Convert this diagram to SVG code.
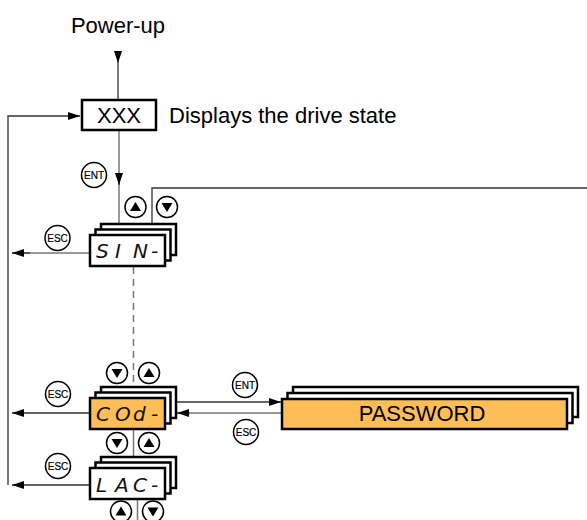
<svg xmlns="http://www.w3.org/2000/svg" width="587" height="520" viewBox="0 0 587 520">
<style>
.lbl{font-family:"Liberation Sans",Arial,sans-serif;font-size:22px;fill:#000}
.frame{fill:#fff;stroke:#000;stroke-width:2.5}
.front{stroke:#000;stroke-width:2.5}
.seg{font-family:"DejaVu Sans","Liberation Sans",sans-serif;font-weight:200;font-style:italic;font-size:20px;fill:#111}
.btn{fill:#fff;stroke:#000;stroke-width:1.5}
.key{font-family:"Liberation Sans Narrow","Liberation Sans",Arial,sans-serif;font-size:10px;fill:#000;text-anchor:middle;stroke:#000;stroke-width:0.2}
.c{fill:none;stroke:#333;stroke-width:1.3}
.g{fill:none;stroke:#777;stroke-width:1.5}
</style>
<defs>
<marker id="arr" viewBox="0 0 12 8" refX="12" refY="4" markerWidth="12" markerHeight="8" markerUnits="userSpaceOnUse" orient="auto">
<path d="M0 0L12 4L0 8z" fill="#000"/>
</marker>
<g id="up"><circle r="10.5" class="btn"/><path d="M-5.5 4L5.5 4L0 -5z" fill="#000"/></g>
<g id="down"><circle r="10.5" class="btn"/><path d="M-5.5 -4L5.5 -4L0 5z" fill="#000"/></g>
</defs>

<g id="connectors">
<path class="c" d="M118 52V63" marker-end="url(#arr)"/>
<path class="c" d="M118 63V100"/>
<path class="c" d="M8 485V116H80" marker-end="url(#arr)"/>
<path class="g" d="M119 130V185"/>
<path class="c" d="M119 174V185" marker-end="url(#arr)"/>
<path class="g" d="M119 185V224"/>
<path class="c" d="M152 224V188H587"/>
<path class="g" d="M90 253H12"/>
<path class="c" d="M30 253H12" marker-end="url(#arr)"/>
<path class="c" d="M90 413H12" marker-end="url(#arr)"/>
<path class="c" d="M90 485H12" marker-end="url(#arr)"/>
<path class="g" d="M133.5 267V387" stroke-dasharray="7 5"/>
<path class="c" d="M177 402H281" marker-end="url(#arr)"/>
<path class="g" d="M282 413H190"/>
<path class="c" d="M190 413H177" marker-end="url(#arr)"/>
<path class="g" d="M133.5 430V457"/>
<path class="g" d="M137.5 500V520"/>
</g>

<g id="powerup"><text class="lbl" x="118" y="33" text-anchor="middle">Power-up</text></g>

<g id="xxx">
<rect x="82" y="100" width="74" height="30" fill="#fff" stroke="#000" stroke-width="2.5"/>
<text class="lbl" x="119" y="123" text-anchor="middle">XXX</text>
<text class="lbl" x="169" y="123">Displays the drive state</text>
</g>

<g id="ent1"><circle cx="94" cy="175" r="12.5" class="btn"/><text class="key" x="94" y="178.5">ENT</text></g>

<g id="sin">
<rect class="frame" x="101" y="224" width="75" height="31"/>
<rect class="frame" x="95.5" y="229.5" width="75" height="31"/>
<rect class="front" x="90" y="235" width="75" height="31" fill="#fff"/>
<text class="seg" x="96 115 133 151" y="258">SIN-</text>
</g>
<use href="#up" x="135.5" y="207"/>
<use href="#down" x="167" y="207"/>
<g id="esc1"><circle cx="57.5" cy="238" r="12.5" class="btn"/><text class="key" x="57.5" y="241.5">ESC</text></g>

<g id="cod">
<rect class="frame" x="101" y="387" width="75" height="31"/>
<rect class="frame" x="95.5" y="392.5" width="75" height="31"/>
<rect class="front" x="90" y="398" width="75" height="31" fill="#FDBE57"/>
<text class="seg" x="96 115 133 151" y="421">COd-</text>
</g>
<use href="#down" x="117" y="373"/>
<use href="#up" x="149" y="373"/>
<use href="#down" x="117" y="443"/>
<use href="#up" x="149" y="443"/>
<g id="esc2"><circle cx="58" cy="394" r="12.5" class="btn"/><text class="key" x="58" y="397.5">ESC</text></g>

<g id="password">
<rect class="frame" x="293" y="387" width="285" height="30"/>
<rect class="frame" x="287.5" y="393" width="285" height="30"/>
<rect class="front" x="282" y="399" width="285" height="30" fill="#FDBE57"/>
<text class="lbl" x="422" y="421" text-anchor="middle">PASSWORD</text>
</g>
<g id="ent2"><circle cx="245" cy="385" r="12.5" class="btn"/><text class="key" x="245" y="388.5">ENT</text></g>
<g id="esc3"><circle cx="246" cy="432" r="12.5" class="btn"/><text class="key" x="246" y="435.5">ESC</text></g>

<g id="lac">
<rect class="frame" x="101" y="457" width="75" height="31"/>
<rect class="frame" x="95.5" y="462.5" width="75" height="31"/>
<rect class="front" x="90" y="468" width="75" height="31" fill="#fff"/>
<text class="seg" x="96 115 133 151" y="492">LAC-</text>
</g>
<use href="#up" x="121" y="511.5"/>
<use href="#down" x="153" y="511.5"/>
<g id="esc4"><circle cx="58" cy="466" r="12.5" class="btn"/><text class="key" x="58" y="469.5">ESC</text></g>
</svg>
